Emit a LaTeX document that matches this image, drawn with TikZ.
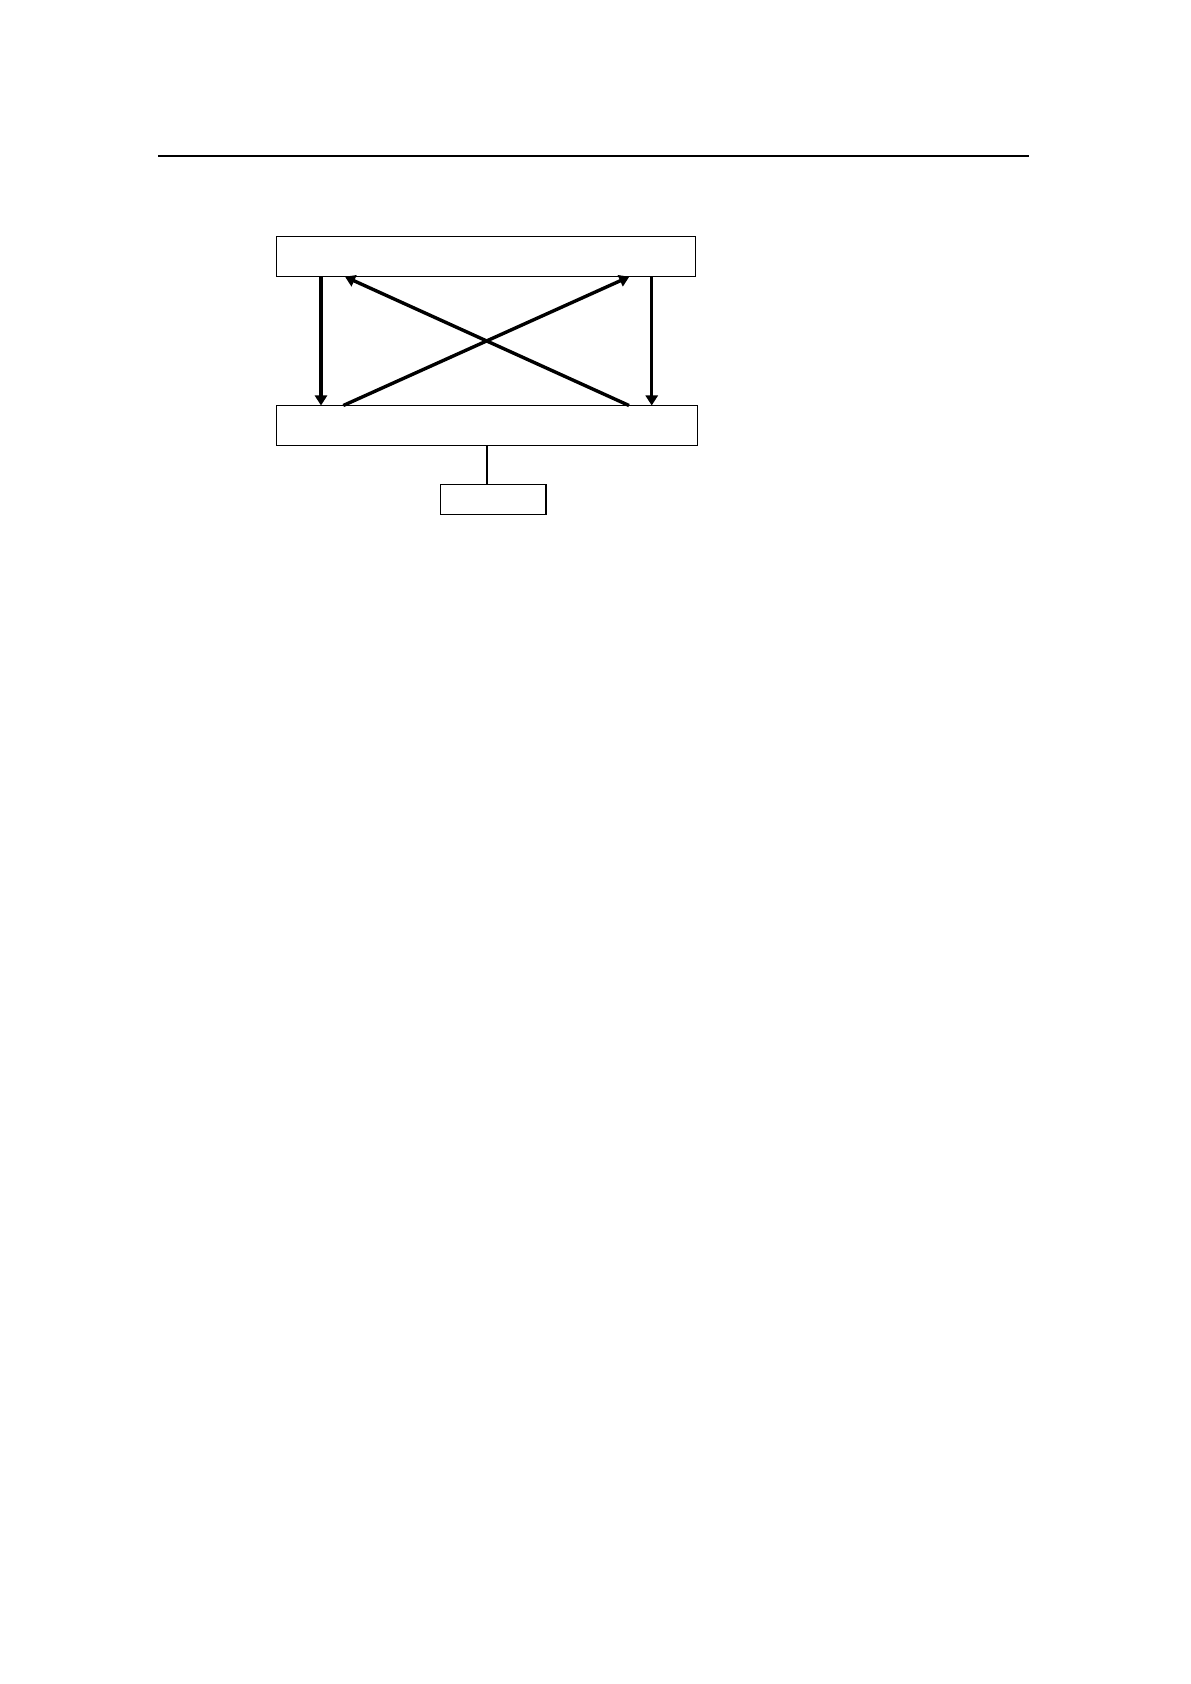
\documentclass[tikz,border=0pt]{standalone}
\usetikzlibrary{calc}
\usetikzlibrary{arrows.meta}
\begin{document}
\begin{tikzpicture}[x=0.5pt,y=-0.5pt]
\tikzset{blk/.style={draw,line width=0.65pt,inner sep=0,outer sep=0},
flow/.style={line width=1.7pt,-{Triangle[length=5pt,width=6pt]}}}
\useasboundingbox (0,0) rectangle (1190,1684);
\draw[line width=1pt] (158,156)--(1029,156);
\node[blk,minimum width=209.5pt,minimum height=20pt] (upper) at (486.2,256.7) {};
\node[blk,minimum width=210.3pt,minimum height=20pt] (lower) at (487,425.5) {};
\node[blk,minimum width=52.6pt,minimum height=15pt] (small) at (493.3,499.2) {};
\coordinate (lt) at ($(upper.south west)+(44.3,0)$);
\coordinate (rt) at ($(upper.south east)+(-44,0)$);
\draw[flow] (lt)--(lt |- lower.north);
\draw[flow] (rt)--(rt |- lower.north);
\draw[flow] ($(lower.north west)+(66.6,0)$)--($(upper.south east)+(-66.4,0)$);
\draw[flow] ($(lower.north east)+(-68.3,0)$)--($(upper.south west)+(68.3,0)$);
\draw[line width=0.75pt] (lower.south)--(lower.south |- small.north);
\end{tikzpicture}
\end{document}
